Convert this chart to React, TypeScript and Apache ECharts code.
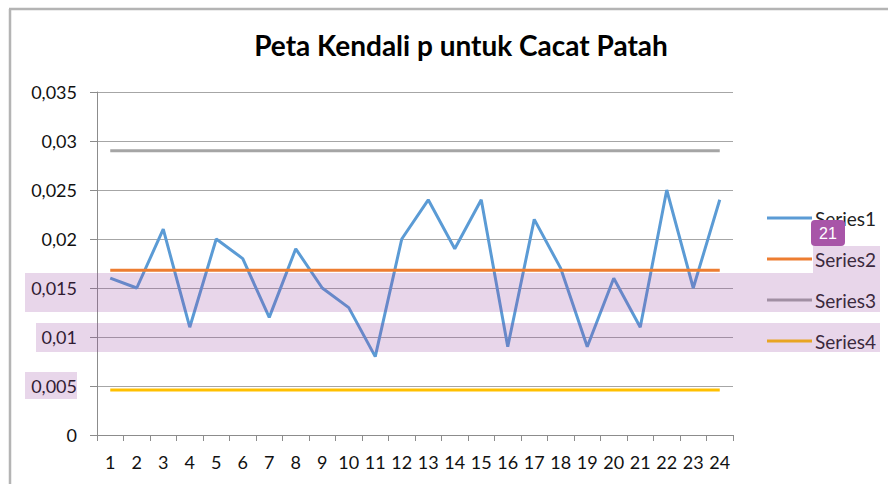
import React, { useEffect, useRef } from "react";
import * as echarts from "echarts";

const categories = ["1","2","3","4","5","6","7","8","9","10","11","12","13","14","15","16","17","18","19","20","21","22","23","24"];
const series1 = [0.016, 0.015, 0.021, 0.011, 0.020, 0.018, 0.012, 0.019, 0.015, 0.013, 0.008, 0.020, 0.024, 0.019, 0.024, 0.009, 0.022, 0.017, 0.009, 0.016, 0.011, 0.025, 0.015, 0.024];
const centerLine = 0.0168;
const upperLimit = 0.029;
const lowerLimit = 0.0046;
const series2 = categories.map(() => centerLine);
const series3 = categories.map(() => upperLimit);
const series4 = categories.map(() => lowerLimit);
const seriesNames = ["Series1", "Series2", "Series3", "Series4"];
const titleText = "Peta Kendali p untuk Cacat Patah";

const FONT = "Lato, 'Open Sans', sans-serif";
const HL = "rgba(150,70,160,0.22)";

export default function App() {
  const ref = useRef<HTMLDivElement>(null);
  useEffect(() => {
    if (!ref.current) return;
    const chart = echarts.init(ref.current, undefined, { renderer: "svg" });
    const mk = (name: string, data: number[], color: string) => ({
      name,
      type: "line",
      data,
      symbol: "none",
      lineStyle: { color, width: 3 },
      itemStyle: { color },
    });
    chart.setOption({
      animation: false,
      backgroundColor: "#ffffff",
      title: {
        text: titleText,
        left: 456,
        textAlign: "center",
        top: 26,
        textStyle: { fontFamily: FONT, fontSize: 28, fontWeight: "bold", color: "#000" },
      },
      grid: { left: 97, right: 155, top: 92, bottom: 49 },
      legend: {
        orient: "vertical",
        left: 767,
        top: 208,
        padding: 0,
        icon: "rect",
        itemWidth: 45,
        itemHeight: 3,
        itemGap: 21,
        data: seriesNames,
        textStyle: { fontFamily: FONT, fontSize: 19, color: "#222", lineHeight: 20, padding: [0, 0, 0, -2] },
      },
      xAxis: {
        type: "category",
        data: categories,
        boundaryGap: true,
        axisLine: { lineStyle: { color: "#8c8c8c", width: 1 } },
        axisTick: { show: true, length: 6, lineStyle: { color: "#8c8c8c" } },
        axisLabel: { fontFamily: FONT, fontSize: 18, color: "#111", margin: 18, interval: 0 },
        splitLine: { show: false },
      },
      yAxis: {
        type: "value",
        min: 0,
        max: 0.035,
        interval: 0.005,
        axisLine: { show: true, lineStyle: { color: "#8c8c8c", width: 1 } },
        axisTick: { show: true, length: 7, lineStyle: { color: "#8c8c8c" } },
        axisLabel: {
          fontFamily: FONT,
          fontSize: 18,
          color: "#111",
          margin: 20,
          formatter: (v: number) => String(parseFloat(v.toFixed(4))).replace(".", ","),
        },
        splitLine: { show: true, lineStyle: { color: "#a6a6a6", width: 1 } },
      },
      series: [
        mk("Series1", series1, "#5b9bd5"),
        mk("Series2", series2, "#ed7d31"),
        mk("Series3", series3, "#a5a5a5"),
        mk("Series4", series4, "#ffc000"),
      ],
      graphic: [
        { type: "line", silent: true, shape: { x1: 9, y1: 9, x2: 888, y2: 9 }, style: { stroke: "#b4b4b4", lineWidth: 2.5 } },
        { type: "line", silent: true, shape: { x1: 10, y1: 9, x2: 10, y2: 484 }, style: { stroke: "#b4b4b4", lineWidth: 2.5 } },
        { type: "rect", silent: true, z: 100, shape: { x: 25, y: 273, width: 855, height: 39 }, style: { fill: HL } },
        { type: "rect", silent: true, z: 100, shape: { x: 813, y: 246, width: 67, height: 27 }, style: { fill: HL } },
        { type: "rect", silent: true, z: 100, shape: { x: 36, y: 323, width: 844, height: 29 }, style: { fill: HL } },
        { type: "rect", silent: true, z: 100, shape: { x: 25, y: 372, width: 52, height: 27 }, style: { fill: HL } },
        { type: "rect", silent: true, z: 101, shape: { x: 811, y: 220, width: 34, height: 26, r: 4 }, style: { fill: "#a855a8" } },
        {
          type: "text", silent: true, z: 102, x: 828, y: 233,
          style: { text: "21", fill: "#ffffff", fontFamily: "'Liberation Sans', Arial, sans-serif", fontSize: 16, align: "center", verticalAlign: "middle" },
        },
      ],
    });
    return () => chart.dispose();
  }, []);
  return <div ref={ref} style={{ position: "absolute", left: 0, top: 0, width: 888, height: 484 }} />;
}
